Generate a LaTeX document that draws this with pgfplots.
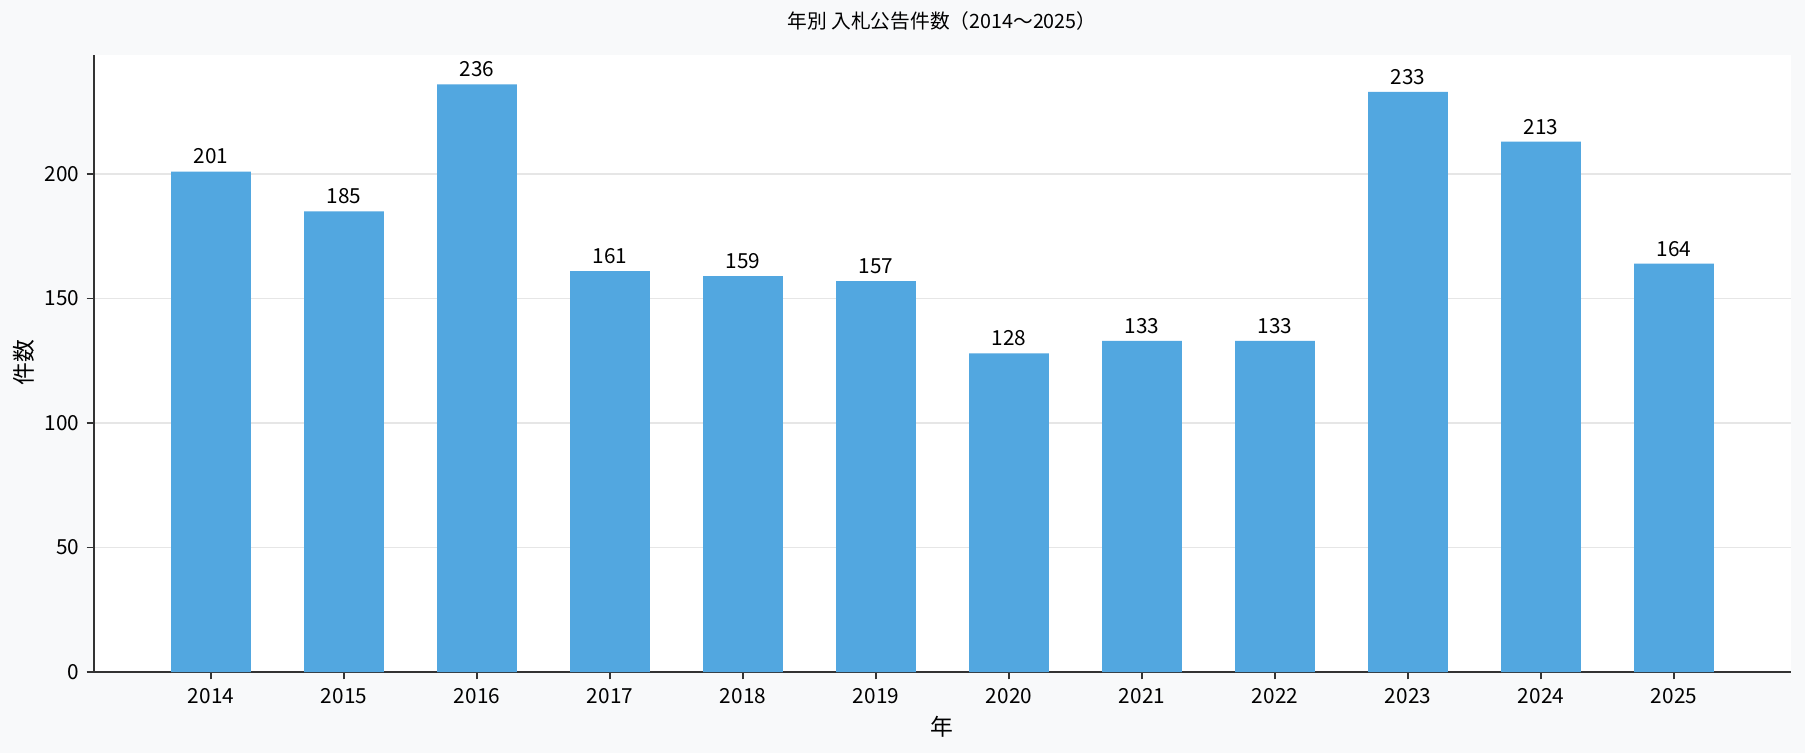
\documentclass[border=0pt]{standalone}
\usepackage{pgfplots}
\pgfplotsset{compat=1.18}
\usepackage{fontspec}
\setmainfont{Noto Sans CJK JP}
\definecolor{bgcol}{HTML}{F8F9FA}
\definecolor{barcol}{HTML}{52A7E0}
\definecolor{gridcol}{HTML}{E6E6E6}
\definecolor{spinecol}{HTML}{333333}

\begin{document}
\begin{tikzpicture}
\fill[bgcol] (0,0) rectangle (866.4bp,361.4bp);
\begin{axis}[
  at={(45.1bp,38.8bp)}, anchor=south west,
  width=814.6bp, height=296.2bp, scale only axis,
  axis background/.style={fill=white},
  axis x line*=bottom, axis y line*=left,
  axis line style={spinecol, line width=0.8bp},
  every tick/.style={spinecol, line width=0.8bp},
  tick align=outside, major tick length=3.5bp,
  xmin=-0.88, xmax=11.88, ymin=0, ymax=247.8,
  xtick={0,...,11},
  xticklabels={2014,2015,2016,2017,2018,2019,2020,2021,2022,2023,2024,2025},
  ytick={0,50,100,150,200},
  ymajorgrids, grid style={gridcol, line width=0.6bp},
  /pgf/number format/assume math mode=true,
  tick label style={font=\fontsize{10}{12}\selectfont, black},
  xticklabel style={yshift=-1bp},
  ybar, bar width=0.6,
  nodes near coords,
  nodes near coords style={font=\fontsize{10}{12}\selectfont, black, yshift=0bp},
  clip=false,
]
\addplot[fill=barcol, draw=none] coordinates {
(0,201) (1,185) (2,236) (3,161) (4,159) (5,157)
(6,128) (7,133) (8,133) (9,233) (10,213) (11,164)};
\end{axis}
\node[font=\fontsize{9.5}{11}\selectfont] at (452.2bp,351.4bp) {年別 入札公告件数（2014〜2025）};
\node[font=\fontsize{11}{13}\selectfont] at (452.2bp,12.4bp) {年};
\node[font=\fontsize{11}{13}\selectfont, rotate=90] at (11.5bp,187.3bp) {件数};
\end{tikzpicture}
\end{document}
